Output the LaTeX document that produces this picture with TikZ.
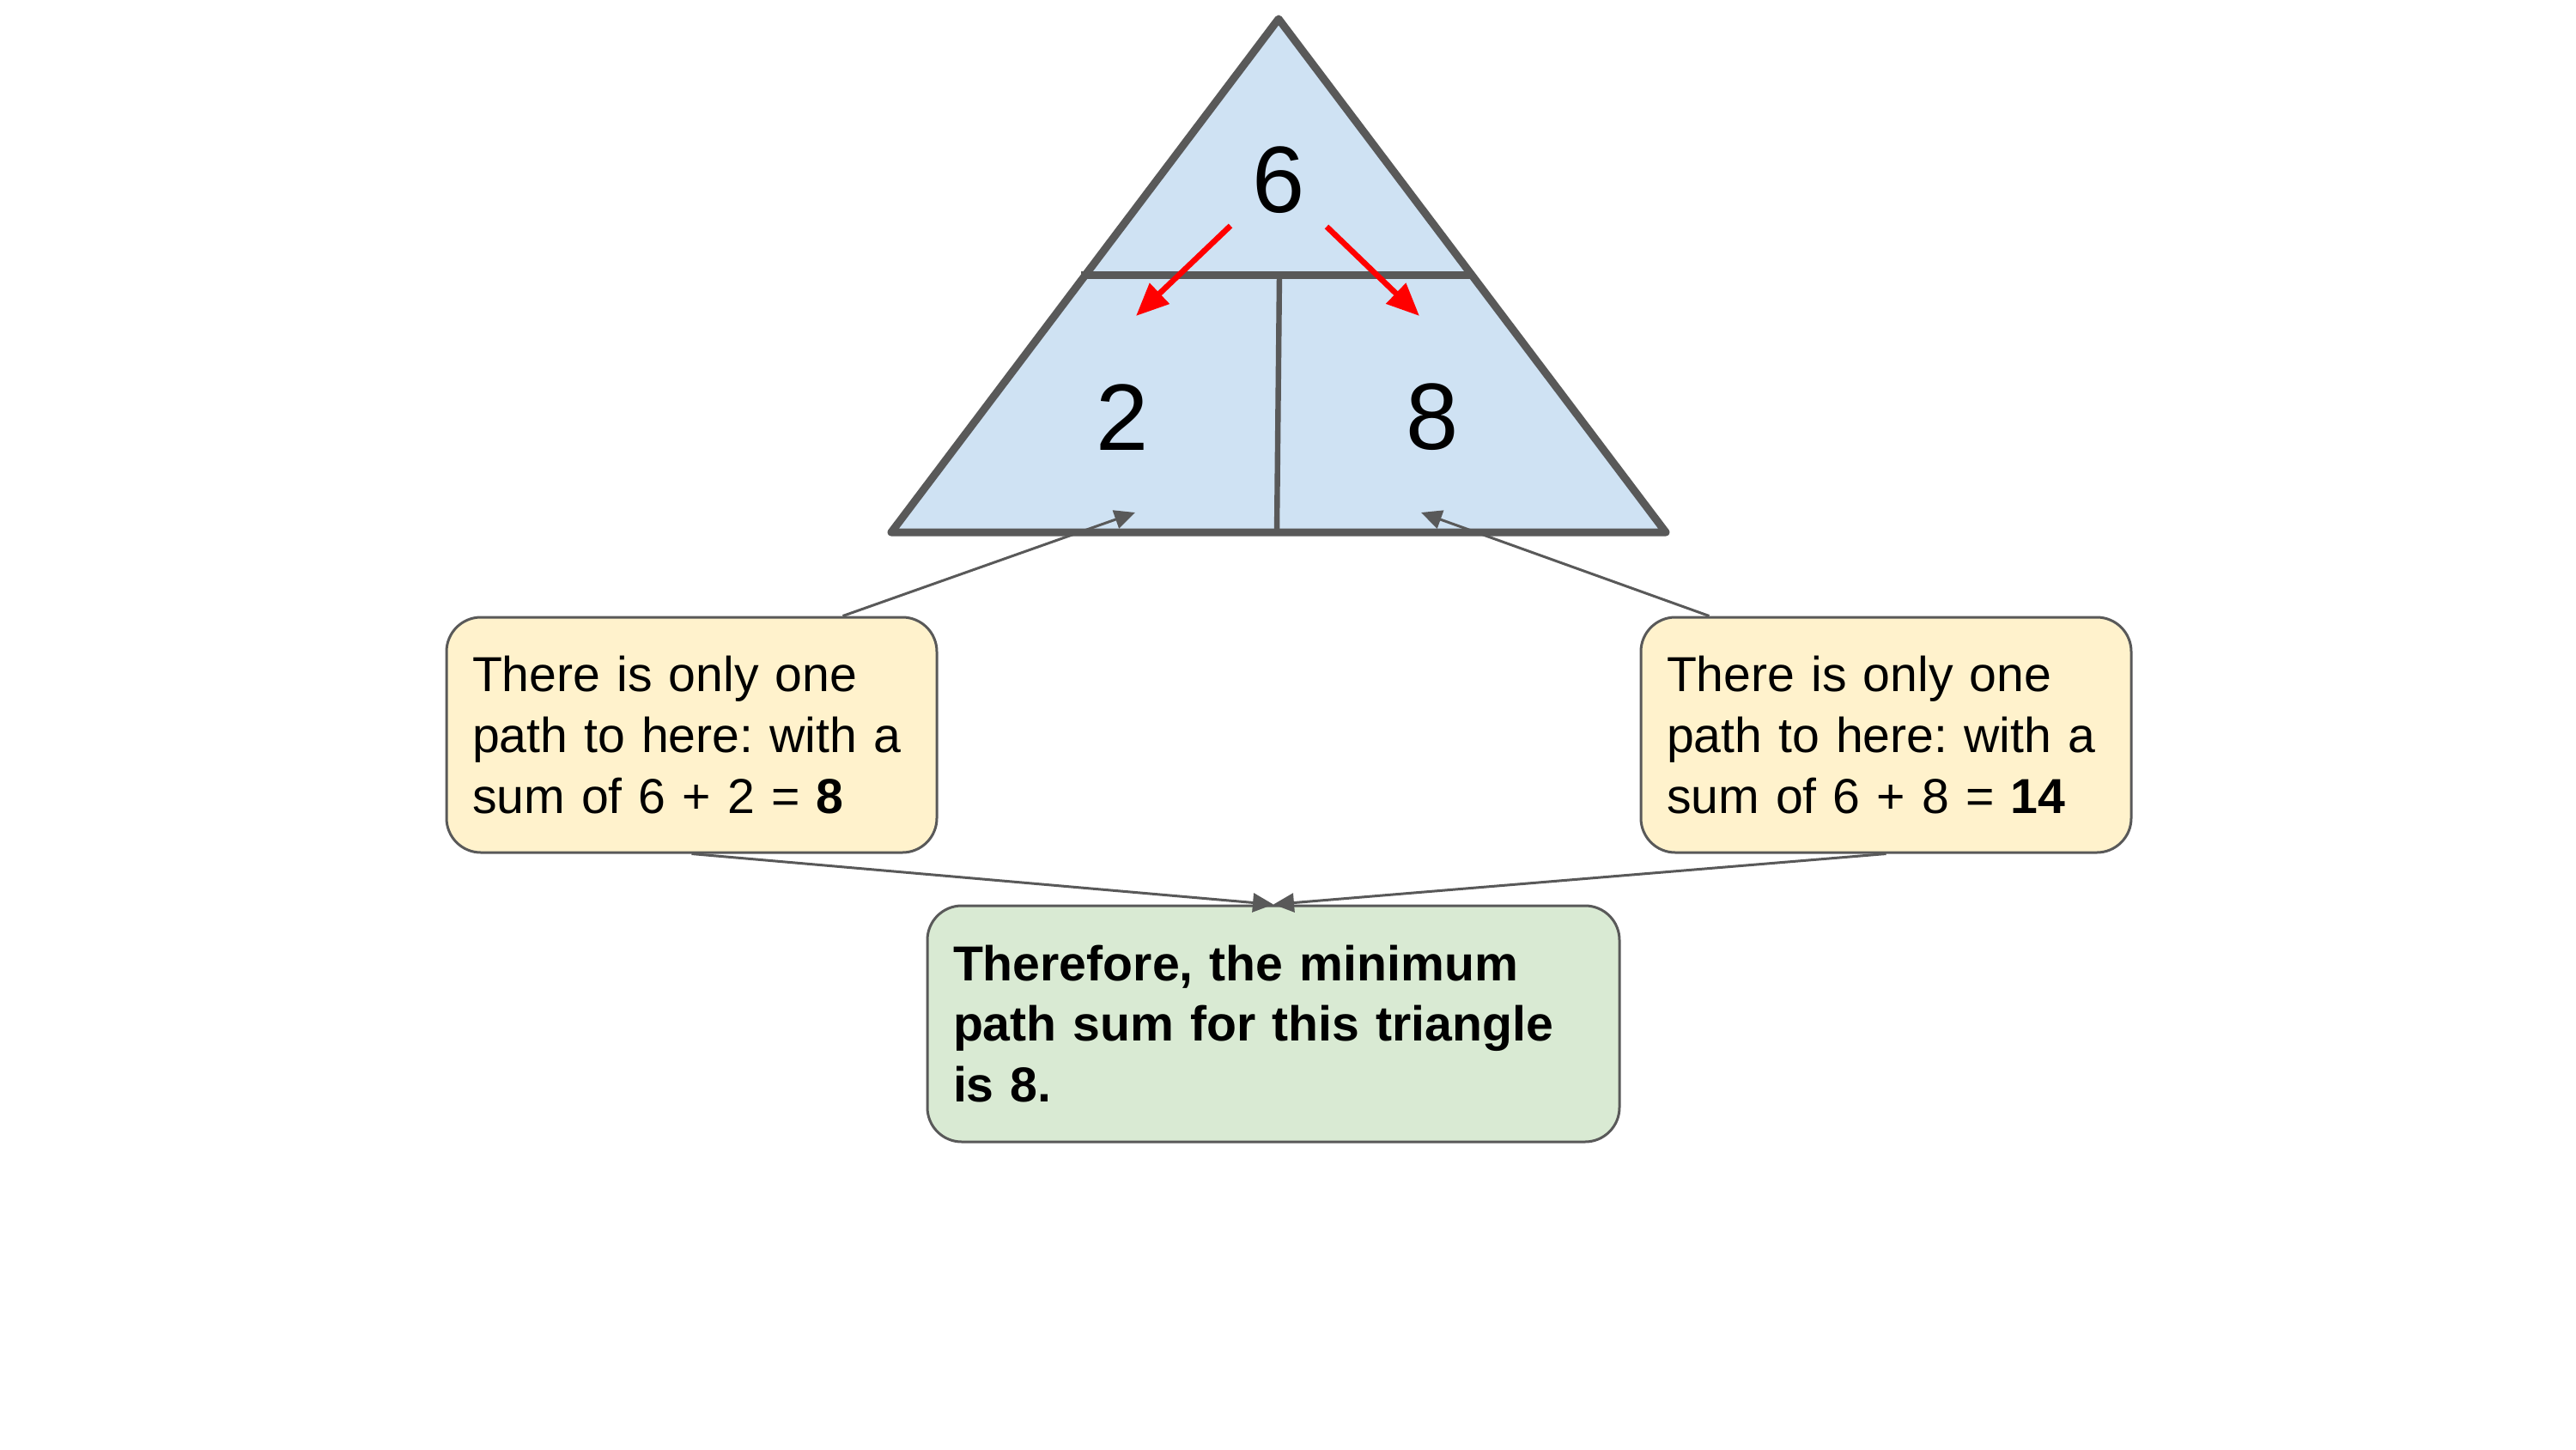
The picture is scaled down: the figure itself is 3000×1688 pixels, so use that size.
\documentclass[tikz,border=0pt]{standalone}
\usepackage{fontspec}
\setmainfont{Liberation Sans}
\usetikzlibrary{arrows.meta}
\definecolor{triblue}{HTML}{CFE2F3}
\definecolor{edgegray}{HTML}{595959}
\definecolor{noteyellow}{HTML}{FFF2CC}
\definecolor{notegreen}{HTML}{D9EAD3}
\definecolor{pathred}{HTML}{FF0000}
\frenchspacing
\tikzset{
  trishape/.style={draw=edgegray, fill=triblue, line width=4.5pt, line join=round},
  hdivider/.style={draw=edgegray, line width=4.5pt},
  vdivider/.style={draw=edgegray, line width=3.2pt},
  numtext/.style={font=\fontsize{55pt}{60pt}\selectfont, inner sep=0pt},
  notebox/.style={draw=edgegray, line width=1.5pt, rounded corners=20pt, fill=noteyellow,
    minimum width=285.5pt, minimum height=137pt, text width=255.5pt, inner xsep=15pt,
    align=left, font=\fontsize{28.6pt}{35.3pt}\selectfont},
  resultbox/.style={notebox, fill=notegreen, minimum width=403pt, minimum height=137.5pt,
    text width=373pt, font=\fontsize{28.6pt}{35.3pt}\selectfont\bfseries},
  redarrow/.style={draw=pathred, line width=3.3pt, -{Triangle[length=19pt,width=16pt]}},
  conn/.style={draw=edgegray, line width=1.5pt, -{Triangle[length=12pt,width=11pt]}}
}
\begin{document}
\begin{tikzpicture}[x=0.5pt, y=-0.5pt]
\useasboundingbox (0,0) rectangle (3000,1688);
% triangle
\coordinate (apex) at (1489,22);
\coordinate (bl) at (1038,620);
\coordinate (br) at (1940,620);
\path[trishape] (apex) -- (bl) -- (br) -- cycle;
\coordinate (dl) at (1259,320);
\coordinate (dr) at (1712,320);
\coordinate (vt) at (1490,320);
\coordinate (vb) at (1487,620);
\draw[hdivider] (dl) -- (dr);
\draw[vdivider] (vt) -- (vb);
% numbers
\node[numtext] (n6) at (1489,210) {6};
\node[numtext] (n2) at (1307,486) {2};
\node[numtext] (n8) at (1668,486) {8};
% red arrows
\coordinate (r6l) at (1433,263);
\coordinate (r2) at (1323,368);
\coordinate (r6r) at (1545,264);
\coordinate (r8) at (1653,368);
\draw[redarrow] (r6l) -- (r2);
\draw[redarrow] (r6r) -- (r8);
% notes
\node[notebox] (lbox) at (805.5,856) {There is only one\\path to here: with a\\sum of 6 + 2 = \textbf{8}};
\node[notebox] (rbox) at (2196.5,856) {There is only one\\path to here: with a\\sum of 6 + 8 = \textbf{14}};
\node[resultbox] (gbox) at (1483,1192.5) {Therefore, the minimum\\path sum for this triangle\\is 8.};
% connectors
\coordinate (t2) at (1322,597);
\coordinate (t8) at (1655,597);
\draw[conn] ([xshift=88pt]lbox.north) -- (t2);
\draw[conn] ([xshift=-103pt]rbox.north) -- (t8);
\draw[conn] (lbox.south) -- (gbox.north);
\draw[conn] (rbox.south) -- (gbox.north);
\end{tikzpicture}
\end{document}
